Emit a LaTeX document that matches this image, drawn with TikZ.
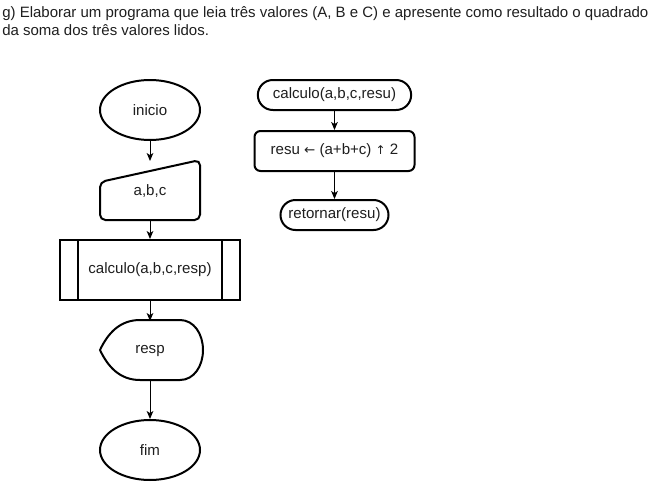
\documentclass[tikz,border=0pt]{standalone}
\usepackage{fontspec}
\setmainfont{Liberation Sans}
\newfontfamily\arrowfont{DejaVu Sans}
\usetikzlibrary{arrows.meta,shapes.geometric}

\definecolor{ink}{RGB}{30,30,30}

\tikzset{
  shapeline/.style={draw=black, line width=1.5pt},
  flow/.style={draw=black, line width=0.75pt, -{Stealth[length=6pt,width=5pt,inset=1.6pt]}},
  term/.style={ellipse, shapeline, minimum width=75pt, minimum height=45pt, inner sep=0pt},
  ghost/.style={draw=none, outer sep=0pt, inner sep=0pt},
  pill/.style={shapeline, rectangle, rounded corners=11.25pt, minimum height=22.5pt, inner sep=0pt},
  label/.style={text=ink, font=\fontsize{11.3pt}{13.5pt}\selectfont},
  heading/.style={text=ink, font=\fontsize{11.25pt}{13.5pt}\selectfont, anchor=base west, inner sep=0pt},
  every node/.style={label}
}

\begin{document}
\begin{tikzpicture}[x=0.75pt,y=-0.75pt]
  \useasboundingbox (0,0) rectangle (661,482);

  % statement of the exercise
  \node[heading] (title1) at (2,17)
    {g) Elaborar um programa que leia três valores (A, B e C) e apresente como resultado o quadrado};
  \node[heading] (title2) at (2,35)
    {da soma dos três valores lidos.};

  % main program
  \node[term] (ini) at (150,110) {inicio};

  \node[ghost, minimum width=75pt, minimum height=45pt] (ent) at (150,191) {a,b,c};
  \draw[shapeline, rounded corners=4pt] (100,182) -- (200,160) -- (200,220) -- (100,220) -- cycle;

  \node[shapeline, minimum width=135pt, minimum height=45pt, inner sep=0pt] (proc) at (150,270) {calculo(a,b,c,resp)};
  \draw[shapeline] (78,240) -- (78,300);
  \draw[shapeline] (222,240) -- (222,300);

  \node[ghost, minimum width=75pt, minimum height=45pt] (out) at (150,351) {resp};
  \draw[shapeline] (100,350) .. controls (108,333) and (120,320) .. (140,320)
     -- (180,320) .. controls (194,320) and (203,334) .. (203,350)
     .. controls (203,366) and (194,380) .. (180,380)
     -- (140,380) .. controls (120,380) and (108,367) .. (100,350) -- cycle;

  \node[term] (fim) at (150,450) {fim};

  \draw[flow] (ini.south) -- (ent.north);
  \draw[flow] (ent.south) -- (proc.north);
  \draw[flow] (proc.south) -- (out.north);
  \draw[flow] (out.south) -- (fim.north);

  % subroutine
  \node[pill, minimum width=115pt] (sub) at (334.5,95) {calculo(a,b,c,resu)};
  \node[shapeline, rounded corners=4.5pt, minimum width=120pt, minimum height=30pt, inner sep=0pt] (calc) at (334.5,151)
    {resu {\arrowfont\fontsize{10pt}{12pt}\selectfont ←} (a+b+c) {\arrowfont\fontsize{9pt}{12pt}\selectfont ↑} 2};
  \node[pill, minimum width=81pt] (ret) at (334.5,215) {retornar(resu)};

  \draw[flow] (sub.south) -- (calc.north);
  \draw[flow] (calc.south) -- (ret.north);
\end{tikzpicture}
\end{document}
